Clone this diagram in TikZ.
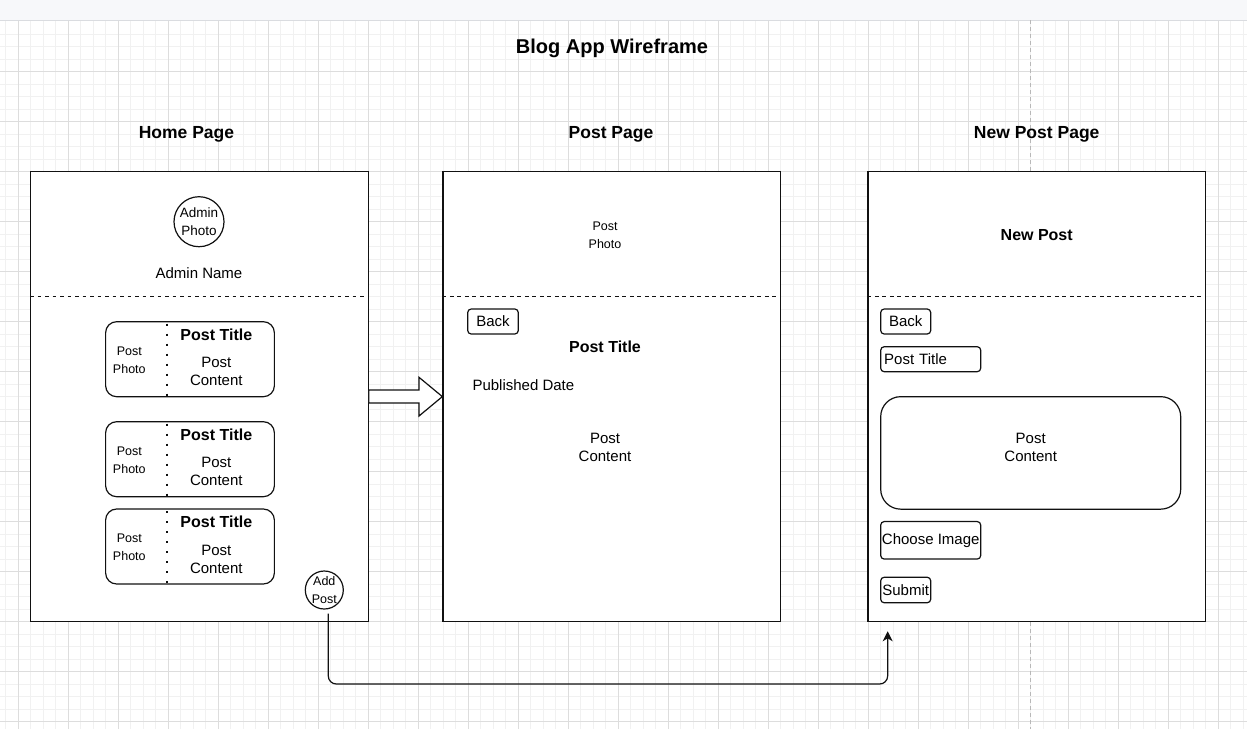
\documentclass[tikz,border=0pt]{standalone}
\usepackage{fontspec}
\setmainfont{Liberation Sans}
\usetikzlibrary{calc,arrows.meta}
\definecolor{minorgrid}{HTML}{F1F1F1}
\definecolor{majorgrid}{HTML}{DDDDDD}
\definecolor{topbar}{HTML}{F7F8FA}
\definecolor{topline}{HTML}{DADCE0}
\definecolor{pagebreak}{HTML}{B8B8B8}
\definecolor{ink}{HTML}{111111}
\begin{document}
\begin{tikzpicture}[x=1pt,y=-1pt,
  page/.style={draw=ink,fill=white,line width=1.2pt,minimum width=337.5pt,minimum height=450pt,inner sep=0pt},
  sepline/.style={draw=ink,line width=1.1pt,dash pattern=on 3.75pt off 3.75pt},
  card/.style={draw=ink,fill=white,line width=1.2pt,rounded corners=11pt,minimum width=168.75pt,minimum height=75pt,inner sep=0pt},
  divider/.style={draw=ink,line width=2.2pt,dash pattern=on 2pt off 8pt},
  btn/.style={draw=ink,fill=white,line width=1.2pt,rounded corners=3.5pt,inner sep=0pt,font=\fontsize{15}{18}\selectfont},
  circ/.style={draw=ink,fill=white,line width=1.2pt,circle,inner sep=0pt,align=center},
  txt/.style={inner sep=0pt,align=center,yshift=-1.2pt,font=\fontsize{15}{18}\selectfont},
  smalltxt/.style={inner sep=0pt,align=center,yshift=-1.2pt,font=\fontsize{12.5}{18}\selectfont},
  boldtxt/.style={inner sep=0pt,align=center,yshift=-1.2pt,font=\fontsize{16}{19}\selectfont\bfseries},
  titletxt/.style={inner sep=0pt,align=center,yshift=-1.5pt,font=\fontsize{17.5}{21}\selectfont\bfseries},
  connector/.style={draw=ink,line width=1.2pt,rounded corners=8pt,-{Stealth[length=10pt,width=10pt,inset=3pt]}},
  blockarrow/.style={draw=ink,fill=white,line width=1.2pt,line join=miter}
]
\useasboundingbox (0,0) rectangle (1247,729);
\fill[white] (0,0) rectangle (1247,729);
% grid
\foreach \i in {0,...,99}{\pgfmathsetmacro\xx{5.8+12.5*\i}\draw[minorgrid,line width=0.8pt] (\xx,20) -- (\xx,729);}
\foreach \i in {1,...,56}{\pgfmathsetmacro\yy{21.7+12.5*\i}\draw[minorgrid,line width=0.8pt] (0,\yy) -- (1247,\yy);}
\foreach \i in {0,...,24}{\pgfmathsetmacro\xx{18.3+50*\i}\draw[majorgrid,line width=0.9pt] (\xx,20) -- (\xx,729);}
\foreach \i in {1,...,14}{\pgfmathsetmacro\yy{21.7+50*\i}\draw[majorgrid,line width=0.9pt] (0,\yy) -- (1247,\yy);}
% top bar
\fill[topbar] (0,0) rectangle (1247,20);
\draw[topline,line width=1pt] (0,20.3) -- (1247,20.3);
% page break line
\draw[pagebreak,line width=1pt,dash pattern=on 4pt off 3pt] (1030.7,20) -- (1030.7,729);

% titles
\node[titletxt,font=\fontsize{20}{24}\selectfont\bfseries] (maintitle) at (612,47) {Blog App Wireframe};
\node[titletxt] (t1) at (186.5,133) {Home Page};
\node[titletxt] (t2) at (611,133) {Post Page};
\node[titletxt] (t3) at (1036.7,133) {New Post Page};

% ---------- Home page ----------
\node[page] (home) at (199.5,396.7) {};
\draw[sepline] ($(home.north west)+(0,125)$) -- ++(335,0);
\node[circ,minimum size=50pt,font=\fontsize{13.5}{18}\selectfont] (adminphoto) at (199,221.7) {Admin\\[-0.5pt]Photo};
\node[txt] (adminname) at (199,271.5) {Admin Name};

\foreach \n/\cy in {c1/359.2,c2/459.2,c3/546.5}{
  \node[card] (\n) at (190,\cy) {};
  \draw[divider] ($(\n.north west)+(61.6,2.6)$) -- ($(\n.south west)+(61.6,0)$);
  \node[smalltxt] (\n photo) at ($(\n.west)+(24.3,0)$) {Post\\Photo};
  \node[boldtxt] (\n title) at ($(\n.north west)+(111.3,12.5)$) {Post Title};
  \node[txt] (\n content) at ($(\n.north west)+(111.3,49.5)$) {Post\\Content};
}
\node[circ,minimum size=38pt,font=\fontsize{12.5}{18.5}\selectfont] (addpost) at (324.3,590) {Add\\Post};

% ---------- Post page ----------
\node[page] (post) at (611.7,396.7) {};
\draw[sepline] ($(post.north west)+(0,125)$) -- ++(335,0);
\node[smalltxt] (postphoto) at (605,234) {Post\\Photo};
\node[btn,minimum width=50.6pt,minimum height=25pt] (back1) at (493,321.5) {Back};
\node[boldtxt] (posttitle) at (605,346) {Post Title};
\node[txt,anchor=west] (pubdate) at (472.3,383.5) {Published Date};
\node[txt] (postcontent) at (605,446.5) {Post\\Content};

% block arrow home -> post
\draw[blockarrow] (home.east |- 0,390) -- (419,390) -- (419,377.3) -- (post.west |- 0,396.6) -- (419,416) -- (419,403) -- (home.east |- 0,403) -- cycle;

% ---------- New post page ----------
\node[page] (newpost) at (1036.7,396.7) {};
\draw[sepline] ($(newpost.north west)+(0,125)$) -- ++(335,0);
\node[boldtxt] (newposthead) at (1036.7,234) {New Post};
\node[btn,minimum width=50pt,minimum height=25pt] (back2) at (905.7,321.5) {Back};
\node[btn,minimum width=100pt,minimum height=25pt,text width=93pt,align=left] (titlebox) at (930.7,359.2) {Post Title};
\node[draw=ink,fill=white,line width=1.2pt,rounded corners=20pt,minimum width=300pt,minimum height=112.5pt,inner sep=0pt] (contentbox) at (1030.7,452.9) {};
\node[txt] (contenttext) at (1030.7,446.5) {Post\\Content};
\node[btn,minimum width=100pt,minimum height=37.5pt] (chooseimg) at (930.7,540.3) {Choose Image};
\node[btn,minimum width=50pt,minimum height=25.5pt] (submit) at (905.7,590) {Submit};

% connector Add Post -> New Post page
\coordinate (cstart) at ($(addpost.south)+(4,4)$);
\coordinate (cend) at ($(newpost.south west)+(20.3,9)$);
\draw[connector] (cstart) -- (cstart |- 0,684) -- (cend |- 0,684) -- (cend);
\end{tikzpicture}
\end{document}
